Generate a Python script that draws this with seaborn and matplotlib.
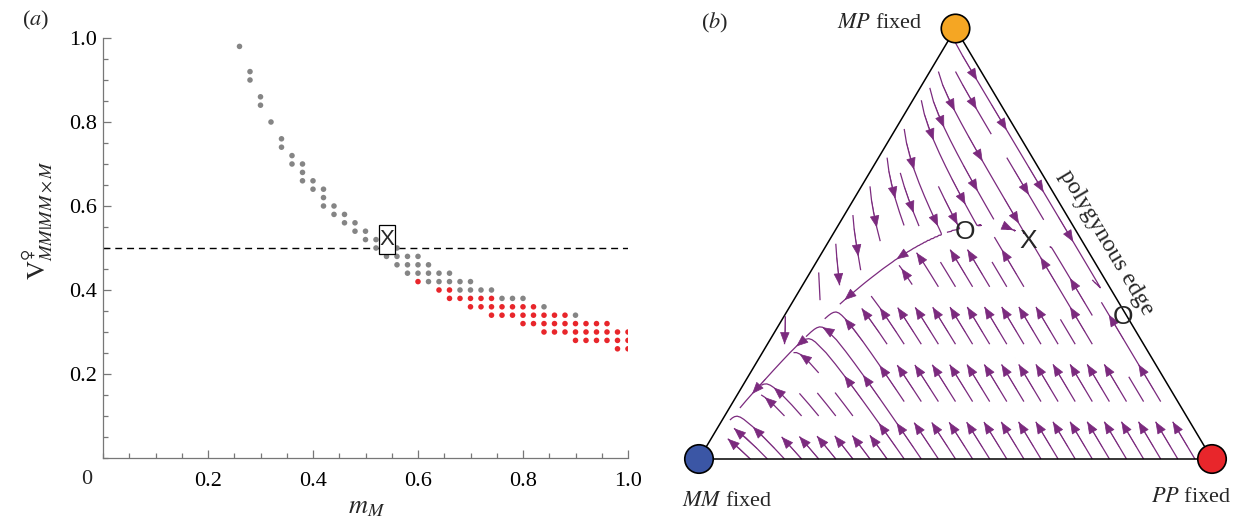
import numpy as np
import pandas as pd
import matplotlib
matplotlib.use("Agg")
import matplotlib.pyplot as plt
from matplotlib.patches import Rectangle
from matplotlib.ticker import AutoMinorLocator
import seaborn as sns

# ---- panel (a): outcome grid, grey = one outcome, red = the other ----
grey_cols = [0.26, 0.28, 0.30, 0.32, 0.34, 0.36, 0.38, 0.40, 0.42, 0.44, 0.46, 0.48,
             0.50, 0.52, 0.54, 0.56, 0.58, 0.60, 0.62, 0.64, 0.66, 0.68, 0.70, 0.72,
             0.74, 0.76, 0.78, 0.80, 0.84, 0.90]
grey_vals = [[0.98], [0.92, 0.90], [0.86, 0.84], [0.80], [0.76, 0.74], [0.72, 0.70],
             [0.70, 0.68, 0.66], [0.66, 0.64], [0.64, 0.62, 0.60], [0.60, 0.58],
             [0.58, 0.56], [0.56, 0.54], [0.54, 0.52], [0.52, 0.50], [0.52, 0.50, 0.48],
             [0.50, 0.48, 0.46], [0.48, 0.46, 0.44], [0.48, 0.46, 0.44], [0.46, 0.44, 0.42],
             [0.44, 0.42], [0.44, 0.42], [0.42, 0.40], [0.42, 0.40], [0.40],
             [0.40], [0.38], [0.38], [0.38], [0.36], [0.34]]
red_cols = [0.60, 0.64, 0.66, 0.68, 0.70, 0.72, 0.74, 0.76, 0.78, 0.80, 0.82, 0.84,
            0.86, 0.88, 0.90, 0.92, 0.94, 0.96, 0.98, 1.00]
red_vals = [[0.42], [0.40], [0.40, 0.38], [0.38], [0.38, 0.36], [0.38, 0.36],
            [0.38, 0.36, 0.34], [0.36, 0.34], [0.36, 0.34], [0.36, 0.34, 0.32],
            [0.36, 0.34, 0.32], [0.34, 0.32, 0.30], [0.34, 0.32, 0.30], [0.34, 0.32, 0.30],
            [0.32, 0.30, 0.28], [0.32, 0.30, 0.28], [0.32, 0.30, 0.28], [0.32, 0.30, 0.28],
            [0.30, 0.28, 0.26], [0.30, 0.28, 0.26]]
marked_m, marked_v = 0.54, 0.52
threshold = 0.5
x_ticks = [0.2, 0.4, 0.6, 0.8, 1.0]
y_ticks = [0.2, 0.4, 0.6, 0.8, 1.0]

# ---- panel (b): equilibria (r = MM share, q = MP share) ----
r_stable = 0.104      # X
r_saddle = 0.217      # interior O
q_edge = 0.33         # O on the polygynous edge
vertex_names = ["MM", "PP", "MP"]
vertex_colors = ["#3b56a5", "#e8262b", "#f5a623"]
purple = "#7b2a7e"

rows = []
for m, vs in zip(grey_cols, grey_vals):
    rows += [(m, v, "grey") for v in vs]
for m, vs in zip(red_cols, red_vals):
    rows += [(m, v, "red") for v in vs]
df = pd.DataFrame(rows, columns=["m", "V", "kind"])

sns.set_theme(style="ticks")
plt.rcParams["font.family"] = ["Liberation Serif", "DejaVu Serif"]
plt.rcParams["mathtext.fontset"] = "stix"

W, H = 1234, 519
fig = plt.figure(figsize=(W / 100, H / 100), dpi=100)

# panel (a)
ax1 = fig.add_axes([103 / W, 61 / H, 525 / W, 420 / H])
sns.scatterplot(data=df, x="m", y="V", hue="kind",
                palette={"grey": "#858585", "red": "#e8262b"},
                s=16, linewidth=0, legend=False, ax=ax1, zorder=3)
ax1.axhline(threshold, color="black", lw=1.0, ls=(0, (5, 3.5)), zorder=2)
bw, bh = 16 / 525, 29 / 420
ax1.add_patch(Rectangle((marked_m - bw / 2, marked_v - bh / 2), bw, bh,
                        fc="white", ec="black", lw=0.9, zorder=4))
ax1.text(marked_m, marked_v, "X", ha="center", va="center", fontsize=16,
         family=["Liberation Sans", "DejaVu Sans"], zorder=5)
ax1.set_xlim(0, 1.0)
ax1.set_ylim(0, 1.0)
ax1.set_xticks(x_ticks)
ax1.set_yticks(y_ticks)
ax1.set_xticklabels([f"{t:.1f}" for t in x_ticks])
ax1.set_yticklabels([f"{t:.1f}" for t in y_ticks])
ax1.xaxis.set_minor_locator(AutoMinorLocator(4))
ax1.yaxis.set_minor_locator(AutoMinorLocator(4))
ax1.tick_params(which="both", direction="in", color="#777777", width=0.9,
                labelsize=16, labelcolor="black")
ax1.tick_params(which="major", length=6)
ax1.tick_params(which="minor", length=3.5)
ax1.tick_params(axis="x", pad=10)
ax1.tick_params(axis="y", pad=4)
for s in ["top", "right"]:
    ax1.spines[s].set_visible(False)
for s in ["left", "bottom"]:
    ax1.spines[s].set_color("#777777")
    ax1.spines[s].set_linewidth(0.9)
ax1.set_xlabel("")
ax1.set_ylabel("")
fig.text(87 / W, 1 - 480 / H, "0", ha="center", va="center", fontsize=16)
fig.text(367 / W, 1 - 508 / H, r"$m_M$", ha="center", va="center", fontsize=19)
fig.text(38 / W, 1 - 220 / H, r"$\mathrm{V}^{♀}_{MM|MM\times M}$", rotation=90,
         ha="center", va="center", fontsize=19)
fig.text(36 / W, 1 - 20 / H, r"($a$)", ha="center", va="center", fontsize=16)

# panel (b): simplex in (X, Y) = (p + q/2, q)
ax2 = fig.add_axes([660 / W, 0, 574 / W, 1])
ax2.set_xlim((660 - 699) / 513, (1234 - 699) / 513)
ax2.set_ylim((459 - 519) / 430.5, 459 / 430.5)
ax2.axis("off")

gx = np.linspace(0, 1, 260)
gy = np.linspace(0, 1, 260)
XX, YY = np.meshgrid(gx, gy)
q = YY
p = XX - YY / 2
r = 1 - p - q
inside = (p >= -1e-9) & (r >= -1e-9)
rc = np.clip(r, 0, 1)
pc = np.clip(p, 0, None)
G = (1 - rc) * (q_edge + 0.55 * rc / (rc + 0.12))
F = G - q
w = np.where(F < 0, 0.5 * (rc / (pc + rc + 1e-9)) ** 3, 0.0)
S = 0.6 * pc * rc * (rc - r_stable) * (rc - r_saddle)
dq = F
dp = -F * (1 - w) - S
U = np.ma.masked_where(~inside, dp + dq / 2)
Vv = np.ma.masked_where(~inside, dq)
sp = ax2.streamplot(gx, gy, U, Vv, density=1.05, color=purple, linewidth=0.9,
                    arrowstyle="-", minlength=0.05, zorder=2)
for pa in list(ax2.patches):
    pa.remove()

# arrowheads spaced along each streamline (join pieces that continue each other)
tracks = []
for sg in sp.lines.get_segments():
    sg = np.asarray(sg)
    if tracks and np.allclose(sg[0], tracks[-1][-1]):
        tracks[-1] = np.vstack([tracks[-1], sg[1:]])
    else:
        tracks.append(sg)
for t in tracks:
    if len(t) < 4:
        continue
    pix = ax2.transData.transform(t)
    dist = np.r_[0, np.cumsum(np.hypot(*np.diff(pix, axis=0).T))]
    if dist[-1] < 12:
        continue
    spots = np.arange(36, dist[-1] - 4, 64)
    if len(spots) == 0:
        spots = [0.7 * dist[-1]]
    for s0 in spots:
        i = max(np.searchsorted(dist, s0), 2)
        ax2.annotate("", xy=t[i], xytext=t[i - 2],
                     arrowprops=dict(arrowstyle="-|>,head_length=0.55,head_width=0.22",
                                     color=purple, lw=0.5, shrinkA=0, shrinkB=0,
                                     mutation_scale=14), zorder=2)

tri_x = [0, 1, 0.5, 0]
tri_y = [0, 0, 1, 0]
ax2.plot(tri_x, tri_y, color="black", lw=1.1, zorder=3, clip_on=False)
vx = [0, 1, 0.5]
vy = [0, 0, 1]
sns.scatterplot(x=vx, y=vy, hue=vertex_names, palette=dict(zip(vertex_names, vertex_colors)),
                s=420, edgecolor="black", linewidth=1.2, legend=False, ax=ax2,
                zorder=5, clip_on=False)

sans = ["Liberation Sans", "DejaVu Sans"]
ax2.text((715 - 699) / 513, (459 - 23) / 430.5, r"($b$)", ha="center", va="center", fontsize=16)
ax2.text((922 - 699) / 513, (459 - 23) / 430.5, r"$MP$ fixed", ha="right", va="center", fontsize=16)
ax2.text((727 - 699) / 513, (459 - 501) / 430.5, r"$MM$ fixed", ha="center", va="center", fontsize=16)
ax2.text((1191 - 699) / 513, (459 - 498) / 430.5, r"$PP$ fixed", ha="center", va="center", fontsize=16)
ax2.text((1106 - 699) / 513, (459 - 243) / 430.5, "polygynous edge", rotation=-59.2,
         rotation_mode="anchor", ha="center", va="center", fontsize=17.5)
for tx, ty, lab in [(965, 232, "O"), (1028, 241, "X"), (1123, 317, "O")]:
    ax2.text((tx - 699) / 513, (459 - ty) / 430.5, lab, ha="center", va="center",
             fontsize=19, family=sans, zorder=6)

fig.savefig("out.png", dpi=100)
